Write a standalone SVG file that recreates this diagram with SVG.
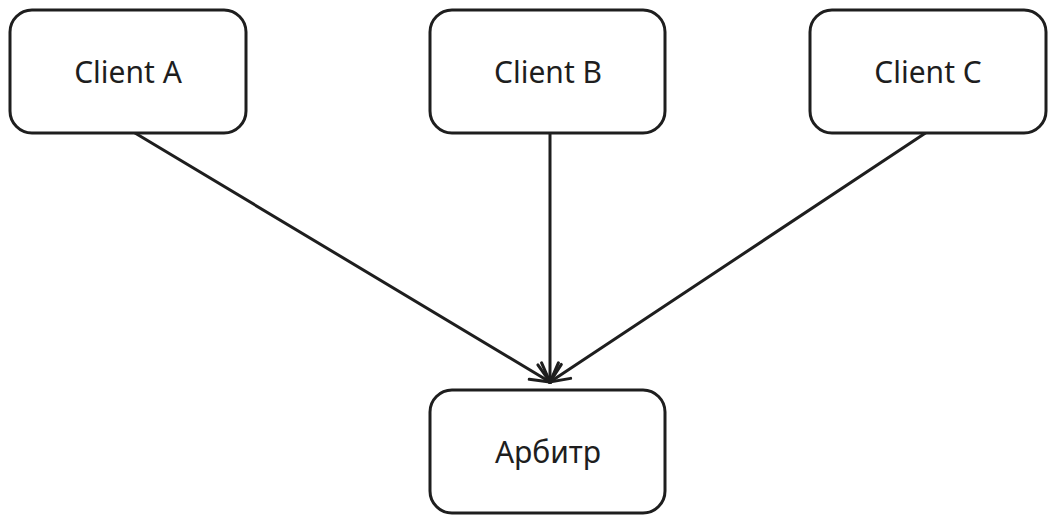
<svg xmlns="http://www.w3.org/2000/svg" width="1055" height="524" viewBox="0 0 1055 524">
<style>
.box{fill:#fff;stroke:#1e1e1e;stroke-width:3}
.t{font-family:"Comic Sans MS","Noto Sans",sans-serif;font-size:30px;fill:#1e1e1e;text-anchor:middle;dominant-baseline:central}
.c{stroke:#1e1e1e;stroke-width:3;fill:none;stroke-linecap:round}
</style>
<defs><marker id="ah" viewBox="0 0 20 20" refX="18" refY="10" markerWidth="24" markerHeight="24" markerUnits="userSpaceOnUse" orient="auto"><path d="M2,3 L18,10 L2,17" fill="none" stroke="#1e1e1e" stroke-width="2.5" stroke-linecap="round"/></marker></defs>
<rect width="1055" height="524" fill="#fff"/>
<g id="connectors">
<path class="c" d="M130,130 L550,382" marker-end="url(#ah)"/>
<path class="c" d="M550,130 L550,382" marker-end="url(#ah)"/>
<path class="c" d="M930,130 L550,382" marker-end="url(#ah)"/>
</g>
<g id="clientA"><rect class="box" x="10" y="10" width="236" height="123" rx="22"/><text class="t" x="128" y="71">Client A</text></g>
<g id="clientB"><rect class="box" x="430" y="10" width="235" height="123" rx="22"/><text class="t" x="548" y="71">Client B</text></g>
<g id="clientC"><rect class="box" x="810" y="10" width="236" height="123" rx="22"/><text class="t" x="928" y="71">Client C</text></g>
<g id="arbiter"><rect class="box" x="430" y="390" width="235" height="123" rx="22"/><text class="t" x="548" y="451">Арбитр</text></g>
</svg>
